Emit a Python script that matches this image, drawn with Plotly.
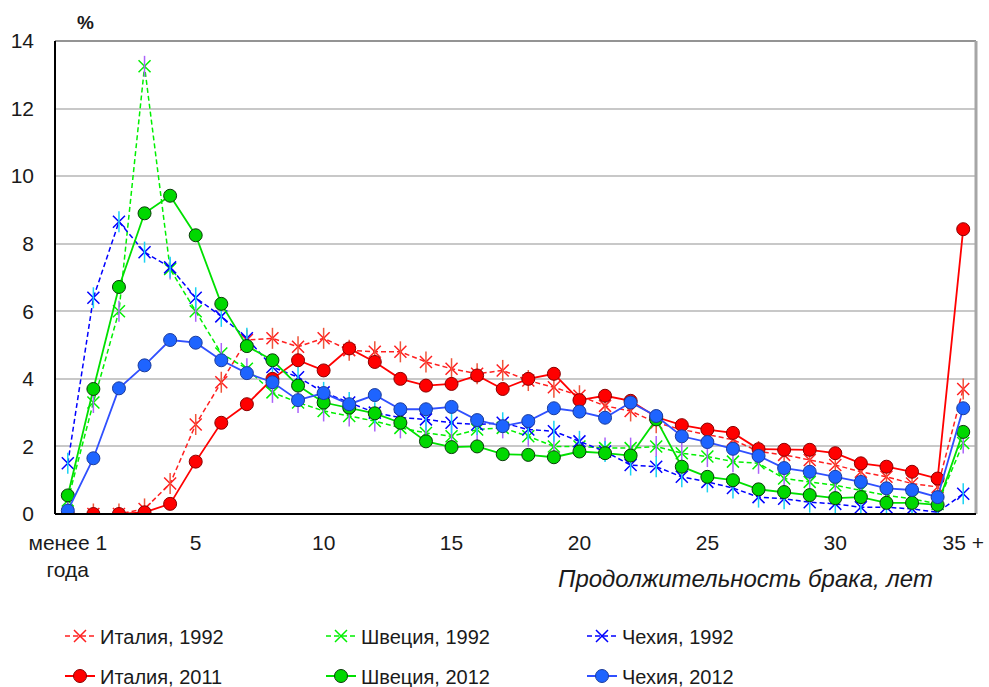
import plotly.graph_objects as go

categories = ["менее 1 года", "1", "2", "3", "4", "5", "6", "7", "8", "9", "10",
              "11", "12", "13", "14", "15", "16", "17", "18", "19", "20",
              "21", "22", "23", "24", "25", "26", "27", "28", "29", "30",
              "31", "32", "33", "34", "35 +"]
tick_vals = ["менее 1 года", "5", "10", "15", "20", "25", "30", "35 +"]
tick_text = ["менее 1<br>года", "5", "10", "15", "20", "25", "30", "35 +"]

italy_1992 = [0, 0, 0, 0.15, 0.9, 2.65, 3.9, 5.15, 5.2, 4.95, 5.2, 4.85, 4.8, 4.8, 4.5,
              4.3, 4.15, 4.25, 3.95, 3.75, 3.5, 3.2, 3.05, 2.7, 2.5, 2.35, 2.2, 1.85,
              1.75, 1.6, 1.45, 1.25, 1.1, 0.9, 0.8, 3.7]
sweden_1992 = [0.4, 3.3, 6.0, 13.25, 7.25, 6.0, 4.75, 4.3, 3.6, 3.3, 3.05, 2.9, 2.75,
               2.55, 2.4, 2.3, 2.5, 2.55, 2.3, 2.0, 2.0, 1.95, 1.95, 2.0, 1.8, 1.7,
               1.55, 1.5, 1.05, 0.95, 0.85, 0.7, 0.55, 0.45, 0.3, 2.1]
czech_1992 = [1.5, 6.4, 8.65, 7.75, 7.3, 6.4, 5.85, 5.2, 4.35, 4.05, 3.6, 3.3, 3.0,
              2.85, 2.8, 2.7, 2.65, 2.7, 2.5, 2.45, 2.15, 1.85, 1.45, 1.4, 1.1, 0.95,
              0.77, 0.5, 0.45, 0.35, 0.3, 0.2, 0.2, 0.15, 0.05, 0.6]
italy_2011 = [0, 0, 0, 0.05, 0.3, 1.55, 2.7, 3.25, 4.0, 4.55, 4.25, 4.9, 4.5, 4.0, 3.8,
              3.85, 4.1, 3.7, 4.0, 4.15, 3.37, 3.5, 3.35, 2.87, 2.63, 2.5, 2.4, 1.92,
              1.9, 1.9, 1.8, 1.5, 1.4, 1.25, 1.05, 8.43]
sweden_2012 = [0.55, 3.7, 6.72, 8.9, 9.42, 8.25, 6.22, 4.97, 4.55, 3.8, 3.3, 3.15, 2.98,
               2.7, 2.15, 1.98, 2.0, 1.77, 1.75, 1.68, 1.85, 1.8, 1.73, 2.8, 1.4, 1.1,
               1.0, 0.73, 0.65, 0.56, 0.47, 0.5, 0.33, 0.33, 0.27, 2.43]
czech_2012 = [0.1, 1.65, 3.72, 4.4, 5.15, 5.07, 4.55, 4.17, 3.9, 3.37, 3.58, 3.25, 3.52,
              3.1, 3.1, 3.17, 2.78, 2.6, 2.75, 3.13, 3.03, 2.85, 3.3, 2.9, 2.3, 2.13,
              1.93, 1.72, 1.36, 1.25, 1.1, 0.95, 0.76, 0.71, 0.5, 3.13]

FONT = "Arial, Liberation Sans, sans-serif"
TXT = "#1a1a1a"

fig = go.Figure()

dashed = [
    ("Италия, 1992", italy_1992, "#FF2020"),
    ("Швеция, 1992", sweden_1992, "#00F000"),
    ("Чехия, 1992", czech_1992, "#0000FF"),
]
solid = [
    ("Италия, 2011", italy_2011, "#FF0000", "#FF0000", "#8a0000"),
    ("Швеция, 2012", sweden_2012, "#00E000", "#00D800", "#0a3a0a"),
    ("Чехия, 2012", czech_2012, "#3050FF", "#1E64FF", "#1c3c9c"),
]

for name, vals, col in dashed:
    fig.add_trace(go.Scatter(
        x=categories, y=vals, name=name, mode="lines+markers",
        line=dict(color=col, width=1.5, dash="5px,3px"),
        marker=dict(symbol="x-thin-open", size=12, line=dict(color=col, width=1.5)),
        legend="legend",
    ))
    fig.add_trace(go.Scatter(
        x=categories, y=vals, name=name, mode="markers", showlegend=False,
        marker=dict(symbol="line-ns-open", size=15, line=dict(color=col, width=1.5)),
        hoverinfo="skip",
    ))

for name, vals, lcol, fcol, ocol in solid:
    fig.add_trace(go.Scatter(
        x=categories, y=vals, name=name, mode="lines+markers",
        line=dict(color=lcol, width=1.8),
        marker=dict(symbol="circle", size=13, color=fcol, line=dict(color=ocol, width=1)),
        legend="legend2",
    ))

legend_common = dict(
    orientation="h", xref="container", yref="container",
    x=60 / 989, xanchor="left", yanchor="middle",
    entrywidth=216, entrywidthmode="pixels",
    font=dict(family=FONT, size=20, color=TXT),
    bgcolor="rgba(0,0,0,0)",
)

fig.update_layout(
    width=989, height=687,
    margin=dict(l=55, r=13, t=41, b=173, autoexpand=False),
    plot_bgcolor="white", paper_bgcolor="white",
    font=dict(family=FONT, size=21, color=TXT),
    legend=dict(legend_common, y=(687 - 636) / 687),
    legend2=dict(legend_common, y=(687 - 676) / 687),
    xaxis=dict(
        type="category", categoryorder="array", categoryarray=categories,
        range=[-0.5, 35.5], tickmode="array", tickvals=tick_vals, ticktext=tick_text,
        showgrid=False, zeroline=False, showline=False, ticks="", automargin=False,
        tickfont=dict(family=FONT, size=21, color=TXT), ticklabelstandoff=14,
    ),
    yaxis=dict(
        range=[0, 14], dtick=2, showgrid=True, gridcolor="#C8C8C8", gridwidth=2,
        zeroline=False, showline=False, ticks="", automargin=False,
        tickfont=dict(family=FONT, size=21, color=TXT), ticklabelstandoff=20,
    ),
    shapes=[
        dict(type="line", xref="paper", yref="paper", x0=0, x1=1, y0=1, y1=1,
             line=dict(color="#707070", width=1.5)),
        dict(type="line", xref="paper", yref="paper", x0=1, x1=1, y0=0, y1=1,
             line=dict(color="#A6A6A6", width=3)),
        dict(type="line", xref="paper", yref="paper", x0=0, x1=0, y0=0, y1=1,
             line=dict(color="#000000", width=2)),
        dict(type="line", xref="paper", yref="paper", x0=0, x1=1, y0=0, y1=0,
             line=dict(color="#000000", width=2)),
    ],
    annotations=[
        dict(text="<b>%</b>", xref="paper", yref="paper", x=(85 - 55) / 921, y=1,
             yshift=19, xanchor="center", yanchor="middle", showarrow=False,
             font=dict(family=FONT, size=19, color=TXT)),
        dict(text="<i>Продолжительность брака, лет</i>", xref="paper", yref="paper",
             x=(745 - 55) / 921, y=0, yshift=-64, xanchor="center", yanchor="middle",
             showarrow=False, font=dict(family=FONT, size=24, color=TXT)),
    ],
)

fig.write_html("out.html", config={"displayModeBar": False},
               post_script="document.body.style.margin='0px';document.body.style.overflow='hidden';")
